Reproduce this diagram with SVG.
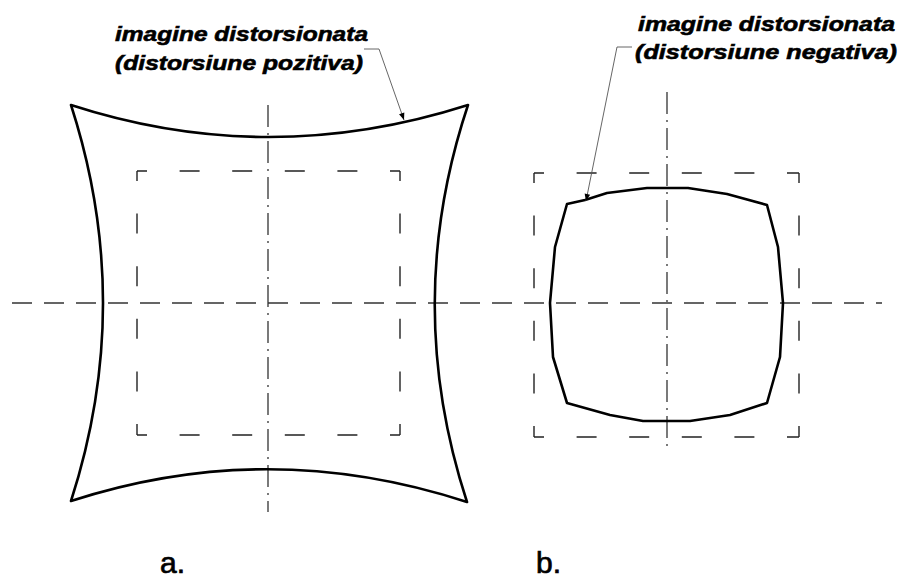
<svg xmlns="http://www.w3.org/2000/svg" width="899" height="578" viewBox="0 0 899 578">
<style>
.shape{fill:none;stroke:#000;stroke-width:2.6;stroke-linejoin:round}
.center{fill:none;stroke:#333;stroke-width:1.3;stroke-dasharray:22 6 2 6}
.hcenter{fill:none;stroke:#333;stroke-width:1.3;stroke-dasharray:20 12}
.rect{fill:none;stroke:#222;stroke-width:1.4;stroke-dasharray:20 32.6;stroke-dashoffset:10}
.lbl{font-family:"Liberation Sans",Arial,sans-serif;font-weight:bold;font-style:italic;font-size:21px;fill:#000;stroke:#000;stroke-width:0.6}
.cap{font-family:"Liberation Sans",Arial,sans-serif;font-size:30px;fill:#000;stroke:#000;stroke-width:0.7}
.leader{fill:none;stroke:#555;stroke-width:0.9}
</style>
<defs>
<marker id="ah" viewBox="0 0 10 10" refX="10" refY="5" markerWidth="14" markerHeight="7" markerUnits="userSpaceOnUse" orient="auto">
<path d="M0,1 L10,5 L0,9 Z" fill="#000"/>
</marker>
</defs>
<g id="axes">
<line class="hcenter" x1="12" y1="303" x2="882" y2="303"/>
<line class="center" x1="268" y1="105" x2="268" y2="512"/>
<line class="center" x1="667" y1="92" x2="667" y2="452"/>
</g>
<g id="ref-rect-a">
<line class="rect" x1="137" y1="171" x2="400" y2="171"/>
<line class="rect" x1="137" y1="435" x2="400" y2="435"/>
<line class="rect" x1="137" y1="171" x2="137" y2="435"/>
<line class="rect" x1="400" y1="171" x2="400" y2="435"/>
</g>
<g id="ref-rect-b">
<line class="rect" x1="534" y1="173" x2="799" y2="173"/>
<line class="rect" x1="534" y1="437" x2="799" y2="437"/>
<line class="rect" x1="534" y1="173" x2="534" y2="437"/>
<line class="rect" x1="799" y1="173" x2="799" y2="437"/>
</g>
<g id="shape-a">
<path class="shape" d="M71,105 Q268,169 468,105 Q402,303 467,502 Q268,437 71,501 Q135,303 71,105 Z"/>
</g>
<g id="shape-b">
<path class="shape" d="M567,204 L585,200 L607,193 L647,188 L688,188 L727,194 L767,205 L778,247 L783,303 L780,357 L767,403 L730,415 L690,421 L643,421 L610,415 L567,403 L553,357 L550,303 L555,247 Z"/>
</g>
<g id="label-a">
<text class="lbl" x="115" y="41" textLength="253" lengthAdjust="spacingAndGlyphs">imagine distorsionata</text>
<text class="lbl" x="115" y="70" textLength="248" lengthAdjust="spacingAndGlyphs">(distorsiune pozitiva)</text>
</g>
<g id="label-b">
<text class="lbl" x="638" y="31" textLength="257" lengthAdjust="spacingAndGlyphs">imagine distorsionata</text>
<text class="lbl" x="635" y="59" textLength="262" lengthAdjust="spacingAndGlyphs">(distorsiune negativa)</text>
</g>
<g id="connectors">
<path class="leader" d="M364,49 L379,49 L404,120" marker-end="url(#ah)"/>
<path class="leader" d="M632,47 L617,47 L586,201" marker-end="url(#ah)"/>
</g>
<g id="caption-a"><text class="cap" x="160" y="573">a.</text></g>
<g id="caption-b"><text class="cap" x="536" y="573">b.</text></g>
</svg>
